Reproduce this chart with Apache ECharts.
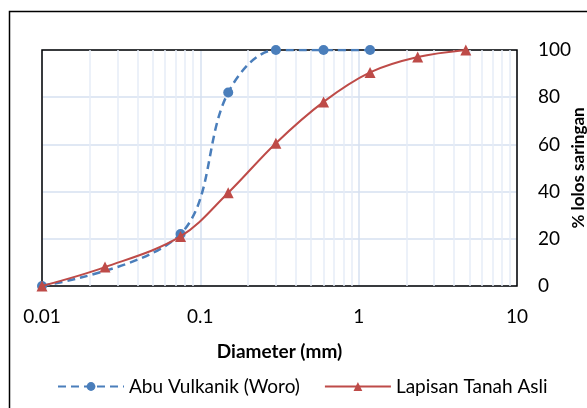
<!DOCTYPE html>
<html>
<head>
<meta charset="utf-8">
<script src="https://cdn.jsdelivr.net/npm/echarts@6/dist/echarts.min.js"></script>
<style>
html,body{margin:0;padding:0;background:#fff;}
#c{width:587px;height:408px;}
</style>
</head>
<body>
<div id="c"></div>
<script>
// Data
var diameterAbu = [0.01, 0.075, 0.15, 0.3, 0.6, 1.18];
var lolosAbu = [0, 22, 82, 100, 100, 100];
var diameterTanah = [0.01, 0.025, 0.075, 0.15, 0.3, 0.6, 1.18, 2.36, 4.75];
var lolosTanah = [0, 8, 21, 39.5, 60.5, 78, 90.5, 97, 100];
var xTicks = [0.01, 0.1, 1, 10];
var minorX = [0.02,0.03,0.04,0.05,0.06,0.07,0.08,0.09,
              0.2,0.3,0.4,0.5,0.6,0.7,0.8,0.9,
              2,3,4,5,6,7,8,9];
var seriesNames = ['Abu Vulkanik (Woro)', 'Lapisan Tanah Asli'];

function pairs(xs, ys){ return xs.map(function(x,i){return [x, ys[i]];}); }

var FONT = 'Lato';
var FS = 19;
var chart = echarts.init(document.getElementById('c'), null, {renderer:'canvas'});
chart.setOption({
  animation: false,
  textStyle: {fontFamily: FONT},
  graphic: [{
    type: 'rect', left: 7, top: 9, silent: true, z: 0,
    shape: {width: 700, height: 500},
    style: {fill: 'none', stroke: '#000', lineWidth: 1.5}
  }],
  grid: {left: 42, right: 70, top: 50, bottom: 122, show: true, containLabel: false,
         outerBoundsMode: 'none',
         borderColor: '#000', borderWidth: 1.5, backgroundColor: 'transparent', z: 3},
  legend: {
    left: 52, top: 372, itemWidth: 66, itemHeight: 11, itemGap: 24,
    textStyle: {fontFamily: FONT, fontSize: FS, color: '#000'},
    data: seriesNames
  },
  xAxis: {
    type: 'log', logBase: 10, min: 0.01, max: 10,
    name: 'Diameter (mm)', nameLocation: 'middle', nameGap: 56, nameMoveOverlap: false,
    nameTextStyle: {fontFamily: FONT, fontSize: FS, fontWeight: 'bold', color: '#000'},
    axisLine: {show: false}, axisTick: {show: false},
    axisLabel: {margin: 21, fontSize: FS, color: '#000', fontFamily: FONT,
      formatter: function(v){ return String(+(+v).toPrecision(3)); }},
    splitLine: {show: true, lineStyle: {color: '#d6e1f1', width: 1.5}}
  },
  yAxis: {
    type: 'value', position: 'right', min: 0, max: 100, interval: 20,
    name: '% lolos saringan', nameLocation: 'middle', nameGap: 62, nameRotate: 90,
    nameMoveOverlap: false,
    nameTextStyle: {fontFamily: FONT, fontSize: 17, fontWeight: 'bold', color: '#000',
                    verticalAlign: 'middle', align: 'center'},
    axisLine: {show: false}, axisTick: {show: false},
    axisLabel: {margin: 21, fontSize: FS, color: '#000', fontFamily: FONT},
    splitLine: {show: true, lineStyle: {color: '#d6e1f1', width: 1.5}}
  },
  series: [
    {
      name: 'minor', type: 'line', data: [], silent: true, z: 1,
      markLine: {
        silent: true, symbol: 'none', animation: false,
        label: {show: false},
        lineStyle: {color: '#e6edf7', width: 1.5, type: 'solid'},
        data: minorX.map(function(v){ return {xAxis: v}; })
      }
    },
    {
      name: seriesNames[0], type: 'line', smooth: 0.35, z: 5,
      data: pairs(diameterAbu, lolosAbu),
      symbol: 'circle', symbolSize: 10,
      itemStyle: {color: '#4a7ebb'},
      lineStyle: {color: '#4a7ebb', width: 2.5, type: [8, 5]}
    },
    {
      name: seriesNames[1], type: 'line', smooth: 0.35, z: 6,
      data: pairs(diameterTanah, lolosTanah),
      symbol: 'triangle', symbolSize: 11,
      itemStyle: {color: '#be4b48'},
      lineStyle: {color: '#be4b48', width: 2}
    }
  ]
});
</script>
</body>
</html>
